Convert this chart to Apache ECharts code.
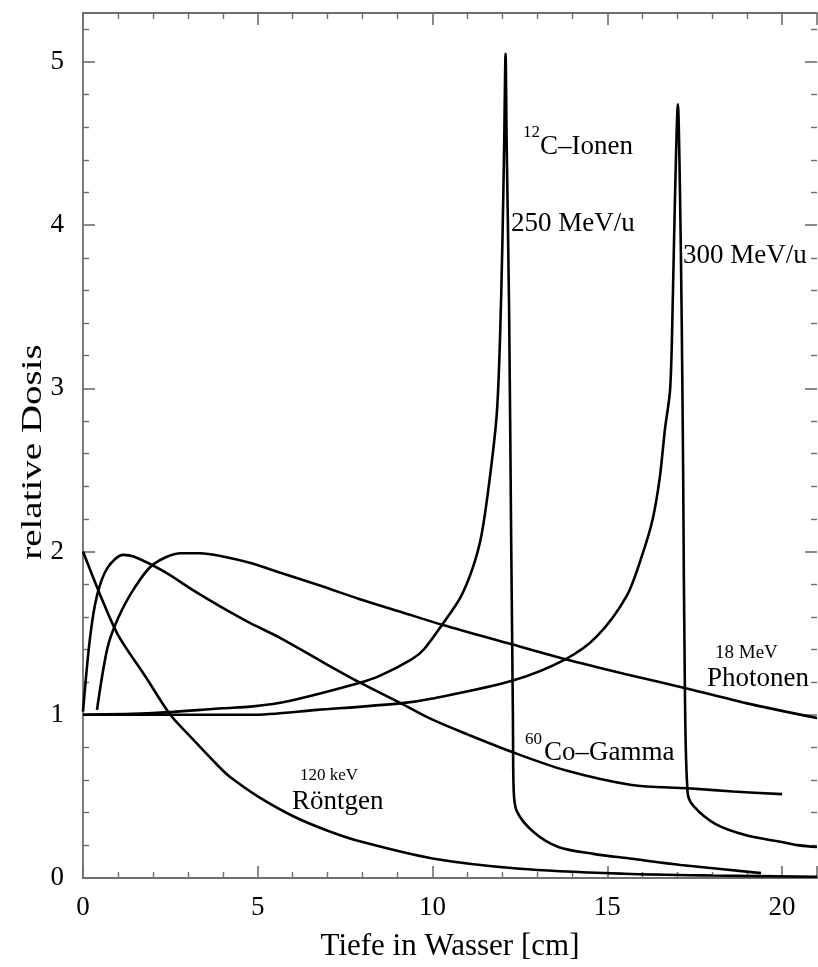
<!DOCTYPE html>
<html>
<head>
<meta charset="utf-8">
<script src="https://cdn.jsdelivr.net/npm/echarts@6/dist/echarts.min.js"></script>
<style>
  html, body { margin: 0; padding: 0; background: #fff; }
  #chart { width: 818px; height: 967px; }
</style>
</head>
<body>
<div id="chart"></div>
<script>
// Depth-dose curves in water: [depth in cm, relative dose]
const roentgen120keV = [
  [0, 2.0], [0.5, 1.73], [1, 1.49], [1.8, 1.23], [2.5, 1.0], [3.1, 0.86],
  [3.9, 0.68], [4.2, 0.62], [5, 0.5], [6, 0.38], [7, 0.29], [8, 0.22],
  [10, 0.12], [12.5, 0.057], [15.5, 0.026], [18, 0.015], [21, 0.008]
];
const cobalt60Gamma = [
  [0, 1.02], [0.2, 1.47], [0.4, 1.73], [0.7, 1.9], [1.15, 1.98], [1.45, 1.97],
  [2.3, 1.88], [3.25, 1.75], [4.2, 1.63], [4.8, 1.56], [5.65, 1.47], [6.8, 1.33],
  [7.9, 1.2], [9.1, 1.07], [10, 0.97], [11, 0.88], [12.3, 0.77], [13.8, 0.66],
  [15.7, 0.57], [17.3, 0.55], [18.6, 0.53], [20, 0.514]
];
const photons18MeV = [
  [0.4, 1.03], [0.7, 1.41], [1, 1.59], [1.45, 1.77], [2, 1.92], [2.8, 1.99],
  [3.35, 1.99], [4, 1.97], [4.8, 1.93], [5.65, 1.87], [6.8, 1.79], [7.9, 1.71],
  [9.1, 1.63], [10.3, 1.55], [12.3, 1.43], [13.8, 1.34], [15.5, 1.25],
  [17.3, 1.16], [19, 1.07], [21, 0.98]
];
const carbon250MeVu = [
  [0, 1.0], [2, 1.01], [4, 1.04], [4.8, 1.05], [5.9, 1.085], [7.9, 1.195],
  [8.5, 1.24], [9.4, 1.34], [9.75, 1.4], [10.3, 1.56], [10.8, 1.72], [11.15, 1.9],
  [11.4, 2.1], [11.65, 2.47], [11.84, 2.85], [11.93, 3.3], [12.0, 3.9],
  [12.05, 4.5], [12.09, 5.05], [12.12, 4.52], [12.19, 3.5], [12.25, 2.08],
  [12.28, 1.43], [12.3, 0.98], [12.32, 0.55], [12.41, 0.41], [12.9, 0.28],
  [13.6, 0.19], [14.6, 0.148], [15.7, 0.118], [17.1, 0.08], [19.4, 0.03]
];
const carbon300MeVu = [
  [0, 1.0], [4.8, 1.0], [6.7, 1.03], [9.07, 1.07], [10, 1.1], [12.3, 1.21],
  [13.8, 1.34], [14.7, 1.48], [15.56, 1.73], [16, 1.98], [16.3, 2.2],
  [16.5, 2.45], [16.65, 2.75], [16.8, 3.0], [16.88, 3.6], [16.94, 4.2],
  [17.02, 4.74], [17.08, 4.2], [17.13, 3.4], [17.17, 2.5], [17.22, 1.16],
  [17.3, 0.52], [17.47, 0.44], [18.1, 0.33], [19, 0.26], [20, 0.22],
  [20.5, 0.2], [21, 0.19]
];

const xTicks = [0, 5, 10, 15, 20];
const yTicks = [0, 1, 2, 3, 4, 5];

const serif = '"Liberation Serif", "DejaVu Serif", serif';
const axisGray = '#6e6e6e';

function curve(data) {
  return {
    type: 'line', data: data, showSymbol: false, smooth: 0.3, clip: true,
    lineStyle: { color: '#000', width: 2.6 }
  };
}

function ticks() {
  return {
    axisTick: { show: true, inside: true, length: 12, lineStyle: { color: axisGray, width: 1.6 } },
    minorTick: { show: true, splitNumber: 5, length: 6, lineStyle: { color: axisGray, width: 1.4 } },
    splitLine: { show: false }
  };
}

const chart = echarts.init(document.getElementById('chart'), null, { renderer: 'canvas' });

chart.setOption({
  animation: false,
  backgroundColor: '#fff',
  grid: { left: 83, right: 1, top: 13, bottom: 86 },
  xAxis: [
    Object.assign({
      type: 'value', min: 0, max: 21, interval: 5, position: 'bottom',
      axisLine: { onZero: false, lineStyle: { color: axisGray, width: 1.8 } },
      axisLabel: {
        color: '#000', fontFamily: serif, fontSize: 27, margin: 16,
        showMaxLabel: false,
        formatter: v => (xTicks.indexOf(v) >= 0 ? String(v) : '')
      },
      name: 'Tiefe in Wasser [cm]', nameLocation: 'middle', nameGap: 53,
      nameTextStyle: { color: '#000', fontFamily: serif, fontSize: 31 }
    }, ticks()),
    Object.assign({
      type: 'value', min: 0, max: 21, interval: 5, position: 'top',
      axisLine: { show: true, onZero: false, lineStyle: { color: axisGray, width: 1.8 } },
      axisLabel: { show: false }
    }, ticks())
  ],
  yAxis: [
    Object.assign({
      type: 'value', min: 0, max: 5.3, interval: 1, position: 'left',
      axisLine: { show: true, onZero: false, lineStyle: { color: axisGray, width: 1.8 } },
      axisLabel: {
        color: '#000', fontFamily: serif, fontSize: 27, margin: 19,
        showMaxLabel: false,
        formatter: v => (yTicks.indexOf(v) >= 0 ? String(v) : '')
      }
    }, ticks()),
    Object.assign({
      type: 'value', min: 0, max: 5.3, interval: 1, position: 'right',
      axisLine: { show: false, onZero: false },
      axisLabel: { show: false }
    }, ticks())
  ],
  series: [
    curve(roentgen120keV),
    curve(cobalt60Gamma),
    curve(photons18MeV),
    curve(carbon250MeVu),
    curve(carbon300MeVu)
  ],
  graphic: [
    // y-axis title, drawn tall along its reading direction
    { type: 'text', x: 33, y: 452, rotation: Math.PI / 2, scaleX: 1.3,
      style: { text: 'relative Dosis', font: '30px ' + serif, fill: '#000', align: 'center', verticalAlign: 'middle' } },
    { type: 'text', left: 523, top: 124, style: { text: '12', font: '17px ' + serif, fill: '#000' } },
    { type: 'text', left: 540, top: 133, style: { text: 'C\u2013Ionen', font: '27px ' + serif, fill: '#000' } },
    { type: 'text', left: 511, top: 210, style: { text: '250 MeV/u', font: '27px ' + serif, fill: '#000' } },
    { type: 'text', left: 683, top: 242, style: { text: '300 MeV/u', font: '27px ' + serif, fill: '#000' } },
    { type: 'text', left: 715, top: 644, style: { text: '18 MeV', font: '19px ' + serif, fill: '#000' } },
    { type: 'text', left: 707, top: 665, style: { text: 'Photonen', font: '27px ' + serif, fill: '#000' } },
    { type: 'text', left: 525, top: 731, style: { text: '60', font: '17px ' + serif, fill: '#000' } },
    { type: 'text', left: 544, top: 739, style: { text: 'Co\u2013Gamma', font: '27px ' + serif, fill: '#000' } },
    { type: 'text', left: 300, top: 767, style: { text: '120 keV', font: '17px ' + serif, fill: '#000' } },
    { type: 'text', left: 292, top: 788, style: { text: 'R\u00f6ntgen', font: '27px ' + serif, fill: '#000' } }
  ]
});
</script>
</body>
</html>
